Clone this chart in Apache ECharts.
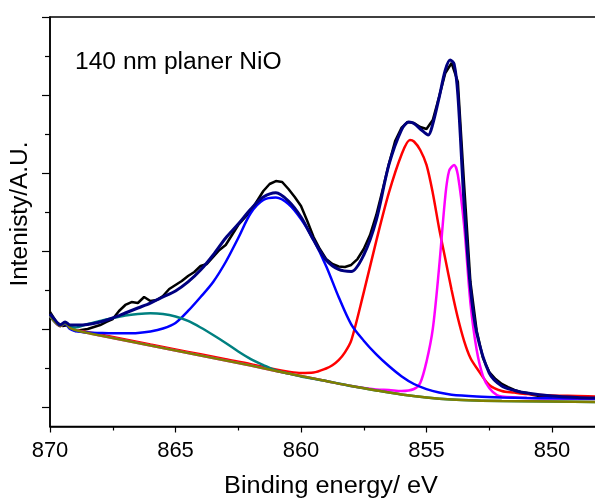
<!DOCTYPE html>
<html>
<head>
<meta charset="utf-8">
<script src="https://cdn.jsdelivr.net/npm/echarts@6/dist/echarts.min.js"></script>
<style>
html,body{margin:0;padding:0;background:#fff;}
#chart{width:595px;height:500px;}
</style>
</head>
<body>
<div id="chart"></div>
<script>
// ---- data (binding energy in eV, intensity in arbitrary units) ----
const rawE = [870.00,869.75,869.50,869.25,869.00,868.75,868.50,868.25,868.00,867.75,867.50,867.25,867.00,866.75,866.50,866.25,866.00,865.75,865.50,865.25,865.00,864.75,864.50,864.25,864.00,863.75,863.50,863.25,863.00,862.75,862.50,862.25,862.00,861.75,861.50,861.25,861.00,860.75,860.50,860.25,860.00,859.75,859.50,859.25,859.00,858.75,858.50,858.25,858.00,857.75,857.50,857.25,857.00,856.75,856.50,856.25,856.00,855.75,855.50,855.25,855.00,854.75,854.50,854.25,854.00,853.75,853.50,853.25,853.00,852.75,852.50,852.25,852.00,851.75,851.50,851.25,851.00,850.75,850.50,850.25,850.00,849.75,849.50,849.00,848.50,848.00];
const rawI = [1218,1090,1038,1051,974,987,1000,1026,1051,1090,1128,1231,1308,1346,1333,1410,1359,1372,1423,1513,1564,1615,1679,1731,1808,1833,1923,2013,2077,2205,2333,2423,2513,2641,2769,2859,2897,2885,2795,2692,2577,2385,2179,2026,1897,1833,1801,1795,1821,1897,2026,2205,2462,2782,3115,3410,3577,3654,3641,3590,3564,3679,3974,4282,4410,4167,2846,1603,974,628,449,359,295,256,218,192,179,154,141,135,128,122,115,115,109,109];

const envE = [870.0,869.8,869.6,869.4,869.2,869.0,868.5,868.0,867.5,867.0,866.5,866.0,865.5,865.0,864.5,864.0,863.5,863.0,862.5,862.0,861.5,861.0,860.5,860.0,859.5,859.0,858.5,858.0,857.5,857.0,856.5,856.0,855.7,855.5,855.2,854.93,854.75,854.5,854.25,854.06,853.9,853.75,853.5,853.25,853.0,852.5,852.0,851.5,851.0,850.0,849.0,848.0];
const envI = [1192,1115,1051,1090,1051,1051,1058,1090,1141,1205,1269,1333,1410,1487,1603,1756,1949,2167,2346,2538,2692,2747,2641,2436,2141,1885,1763,1737,1949,2397,3103,3551,3654,3635,3551,3487,3628,3962,4321,4449,4397,4000,2590,1526,949,436,269,212,179,141,122,112];

const satE = [870.0,869.8,869.6,869.4,869.2,869.0,868.5,868.0,867.5,867.0,866.5,866.0,865.5,865.0,864.5,864.0,863.5,863.0,862.5,862.0,861.5,861.0,860.5,860.0,859.5,859.0,858.5,858.0,857.5,857.0,856.5,856.0,855.5,855.0,854.5,854.0,853.0,852.0,851.0,850.0,848.0];
const satI = [1167,1090,1038,1064,1000,974,955,949,945,945,949,968,1006,1077,1231,1410,1603,1859,2167,2487,2654,2686,2603,2410,2141,1808,1410,1060,850,675,525,395,295,230,186,158,135,122,115,112,109];

const sat2E = [870.0,869.8,869.6,869.4,869.2,869.0,868.5,868.0,867.5,867.0,866.5,866.0,865.5,865.0,864.5,864.0,863.5,863.0,862.5,862.0,861.5,861.0,860.5,860.0,859.0,858.0,857.0,856.0,855.0,854.0,853.0,852.0,850.0,848.0];
const sat2I = [1167,1090,1051,1077,1026,1019,1064,1103,1141,1173,1192,1201,1192,1160,1103,1019,923,821,712,615,538,468,429,391,333,269,212,160,122,96,83,77,71,64];

const mainE = [870.0,869.8,869.6,869.4,869.2,869.0,868.5,868.0,867.0,866.0,865.0,864.0,863.0,862.0,861.0,860.5,860.0,859.5,859.0,858.75,858.5,858.25,858.0,857.5,857.0,856.5,856.0,855.66,855.5,855.25,855.0,854.75,854.5,854.25,854.0,853.75,853.5,853.25,853.0,852.5,852.0,851.5,851.0,850.0,849.0,848.0];
const mainI = [1167,1090,1038,1077,1013,987,960,930,866,801,738,675,612,550,481,453,436,442,494,535,600,700,850,1470,2130,2744,3231,3423,3404,3295,3103,2744,2295,1897,1500,1141,846,628,500,282,205,185,167,147,141,132];

const sharpE = [870.0,869.8,869.6,869.4,869.2,869.0,868.0,867.0,866.0,865.0,864.0,863.0,862.0,861.0,860.0,859.0,858.0,857.0,856.5,856.0,855.5,855.25,855.0,854.75,854.5,854.25,854.1,853.9,853.75,853.5,853.25,853.0,852.75,852.5,852.2,852.0,851.0,850.0,848.0];
const sharpI = [1167,1090,1038,1077,1013,987,917,853,788,724,660,596,532,462,397,333,269,224,218,205,231,308,581,1000,1782,2705,3026,3103,2974,2321,1333,731,397,244,154,135,115,109,103];

const bgE = [870.0,869.8,869.6,869.4,869.2,869.0,868.5,868.0,867.0,866.0,865.0,864.0,863.0,862.0,861.0,860.0,859.0,858.0,857.0,856.0,855.0,854.0,853.0,852.0,850.0,848.0];
const bgI = [1167,1090,1038,1077,1013,987,949,917,853,788,724,660,596,532,462,397,333,269,212,160,122,96,83,77,71,64];

const xMin = 845, xMax = 870, xStep = 5;
const yMin = -250, yMax = 5000;
const yMajorTicks = [0,1000,2000,3000,4000,5000];
const yMinorTicks = [500,1500,2500,3500,4500];

const zip = (a, b) => a.map((v, i) => [v, b[i]]);

const chart = echarts.init(document.getElementById('chart'), null, {renderer: 'canvas'});
const FONT = '"Liberation Sans", Arial, sans-serif';

function line(name, data, color, width, smooth, z) {
  return {
    name, type: 'line', data, showSymbol: false, symbol: 'none',
    smooth: smooth ? 0.3 : false,
    lineStyle: {color, width}, itemStyle: {color}, z, animation: false
  };
}

chart.setOption({
  animation: false,
  backgroundColor: '#fff',
  grid: {left: 50, top: 17, width: 627.5, height: 409.5, show: true,
         outerBoundsMode: 'none', containLabel: false,
         borderColor: '#000', borderWidth: 1.5, backgroundColor: 'transparent'},
  xAxis: {
    type: 'value', inverse: true, min: xMin, max: xMax, interval: xStep,
    axisLine: {show: true, onZero: false, lineStyle: {color: '#000', width: 1.5}},
    axisTick: {show: true, inside: false, length: 6, lineStyle: {color: '#000', width: 1.2}},
    minorTick: {show: true, splitNumber: 2, length: 4, lineStyle: {color: '#000', width: 1.2}},
    splitLine: {show: false},
    axisLabel: {color: '#000', fontSize: 22, fontFamily: FONT, margin: 13}
  },
  yAxis: [{
    type: 'value', min: yMin, max: yMax,
    axisLine: {show: true, onZero: false, lineStyle: {color: '#000', width: 1.5}},
    axisTick: {show: true, inside: false, length: 8, customValues: yMajorTicks, lineStyle: {color: '#000', width: 1.2}},
    axisLabel: {show: false},
    splitLine: {show: false}
  }, {
    type: 'value', min: yMin, max: yMax, position: 'left', offset: 0,
    axisLine: {show: false, onZero: false},
    axisTick: {show: true, inside: false, length: 5, customValues: yMinorTicks, lineStyle: {color: '#000', width: 1.2}},
    axisLabel: {show: false},
    splitLine: {show: false}
  }],
  graphic: [
    {type: 'text', x: 331, y: 487, z: 100, scaleX: 1.1,
     style: {text: 'Binding energy/ eV', font: '23px ' + FONT, fill: '#000',
             textAlign: 'center', textVerticalAlign: 'middle', align: 'center', verticalAlign: 'middle'}},
    {type: 'text', x: 21, y: 214, rotation: Math.PI / 2, z: 100, scaleX: 1.06,
     style: {text: 'Intenisty/A.U.', font: '23px ' + FONT, fill: '#000',
             textAlign: 'center', textVerticalAlign: 'middle', align: 'center', verticalAlign: 'middle'}},
    {type: 'text', x: 75, y: 63, z: 100, scaleX: 1.07,
     style: {text: '140 nm planer NiO', font: '23px ' + FONT, fill: '#000',
             textAlign: 'left', textVerticalAlign: 'middle', align: 'left', verticalAlign: 'middle'}}
  ],
  series: [
    line('Raw data', zip(rawE, rawI), '#000000', 2.5, false, 2),
    line('Ni2+ main', zip(mainE, mainI), '#ff0000', 2.5, true, 3),
    line('NiO multiplet', zip(sharpE, sharpI), '#ff00ff', 2.5, true, 4),
    line('Satellite', zip(satE, satI), '#0000ff', 2.5, true, 5),
    line('Satellite 2', zip(sat2E, sat2I), '#008080', 2.5, true, 6),
    line('Background', zip(bgE, bgI), '#808000', 2.5, true, 7),
    line('Envelope', zip(envE, envI), '#000080', 3, true, 8)
  ]
});
</script>
</body>
</html>
